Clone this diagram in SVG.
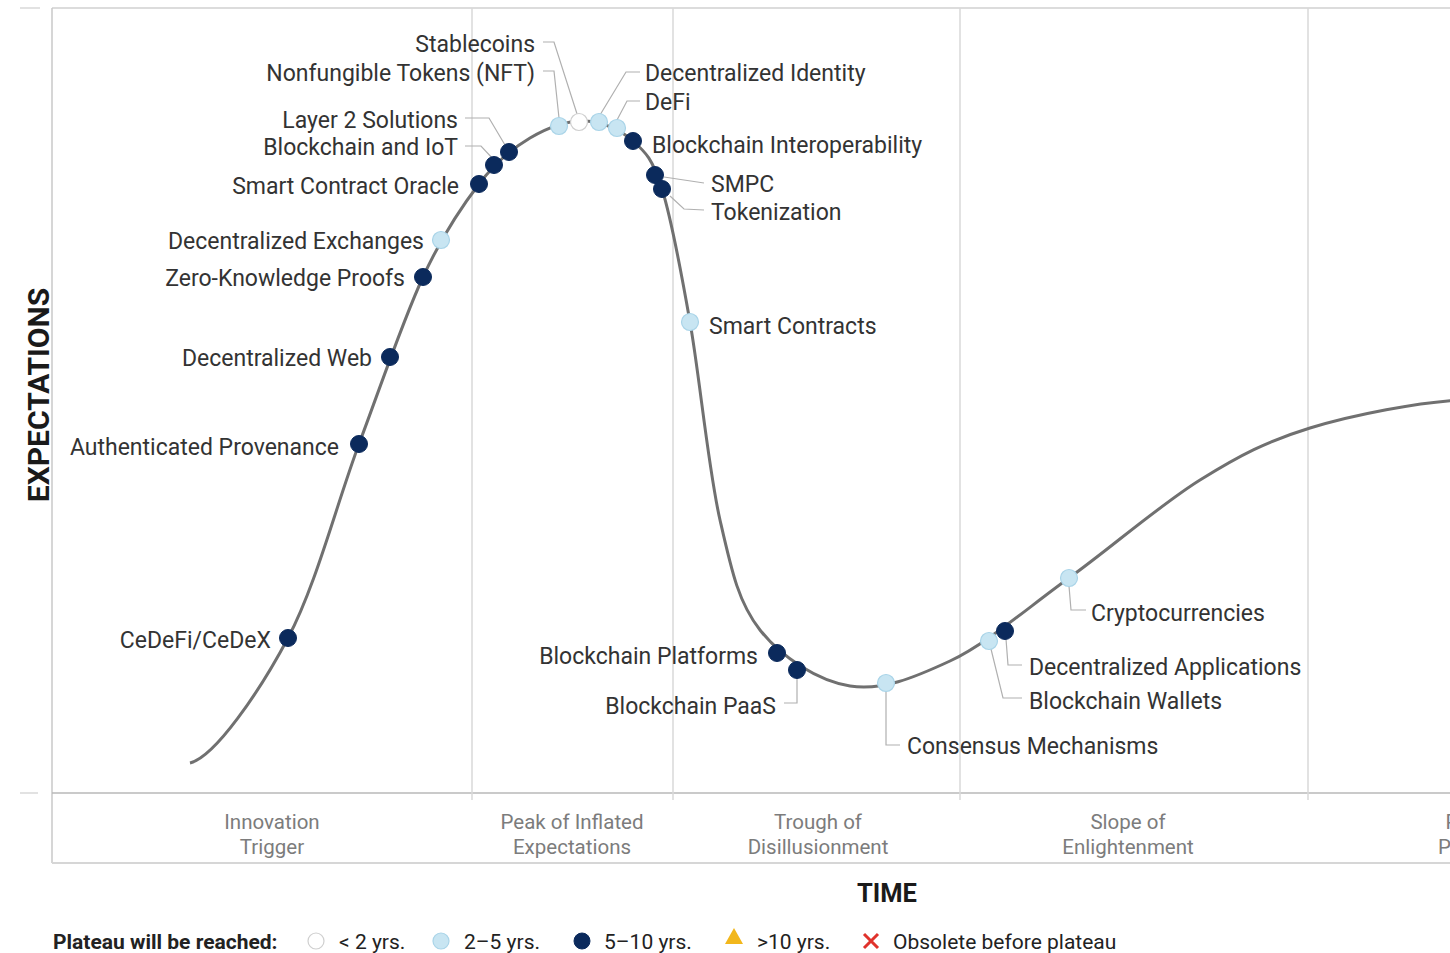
<svg xmlns="http://www.w3.org/2000/svg" width="1450" height="953" viewBox="0 0 1450 953">
<style>
  .lbl{font-family:Roboto,"Liberation Sans",sans-serif;font-size:23px;fill:#333}
  .end{text-anchor:end}
  .ph{font-family:Roboto,"Liberation Sans",sans-serif;font-size:20.5px;fill:#7c7c7c;text-anchor:middle}
  .lg{font-family:Roboto,"Liberation Sans",sans-serif;font-size:21px;fill:#222}
  .grid{stroke:#d9d9d9;stroke-width:1.5;fill:none}
  .lead{stroke:#b0b0b0;stroke-width:1.2;fill:none}
  .dk{fill:#0b2a5c;stroke:#0b2a5c;stroke-width:1}
  .lt{fill:#c8e5f2;stroke:#a9d4e8;stroke-width:1.2}
  .wh{fill:#fff;stroke:#cfcfcf;stroke-width:1.2}
</style>
<rect x="0" y="0" width="1450" height="953" fill="#fff"/>
<g id="frame">
  <line class="grid" x1="20" y1="8" x2="40" y2="8"/>
  <line class="grid" x1="20" y1="793" x2="38" y2="793"/>
  <line x1="52" y1="8" x2="1450" y2="8" stroke="#d0d0d0" stroke-width="1.5"/>
  <line x1="52" y1="8" x2="52" y2="863" stroke="#c8c8c8" stroke-width="1.5"/>
  <line x1="52" y1="793" x2="1450" y2="793" stroke="#b8b8b8" stroke-width="1.5"/>
  <line x1="52" y1="863" x2="1450" y2="863" stroke="#d6d6d6" stroke-width="2"/>
  <line class="grid" x1="472" y1="8" x2="472" y2="800"/>
  <line class="grid" x1="673" y1="8" x2="673" y2="800"/>
  <line class="grid" x1="960" y1="8" x2="960" y2="800"/>
  <line class="grid" x1="1308" y1="8" x2="1308" y2="800"/>
</g>
<g id="phases">
  <text class="ph" x="272" y="829">Innovation</text>
  <text class="ph" x="272" y="854">Trigger</text>
  <text class="ph" x="572" y="829">Peak of Inflated</text>
  <text class="ph" x="572" y="854">Expectations</text>
  <text class="ph" x="818" y="829">Trough of</text>
  <text class="ph" x="818" y="854">Disillusionment</text>
  <text class="ph" x="1128" y="829">Slope of</text>
  <text class="ph" x="1128" y="854">Enlightenment</text>
  <text class="ph" x="1492" y="829">Plateau of</text>
  <text class="ph" x="1492" y="854">Productivity</text>
</g>
<g id="axes">
  <text x="887" y="902" font-family="Roboto,'Liberation Sans',sans-serif" font-size="25.5" font-weight="bold" fill="#1a1a1a" text-anchor="middle">TIME</text>
  <text transform="translate(49,395) rotate(-90)" font-family="Roboto,'Liberation Sans',sans-serif" font-size="30" font-weight="bold" fill="#1a1a1a" text-anchor="middle">EXPECTATIONS</text>
</g>
<g id="connectors">
  <path id="curve" d="M190,763 C215,757 259.8,691.2 288,638 C316.2,584.8 336.5,504.2 359,444 C381.5,383.8 403,320.3 423,277 C443,233.7 461.2,207.2 479,184 C496.8,160.8 512.3,148.5 530,138 C547.7,127.5 567.8,120.5 585,121 C602.2,121.5 620.2,129.7 633,141 C645.8,152.3 652.5,158.8 662,189 C671.5,219.2 680.3,266.8 690,322 C699.7,377.2 708.3,468.7 720,520 C731.7,571.3 738.3,602.3 760,630 C781.7,657.7 818.3,681 850,686 C881.7,691 913.5,678 950,661 C986.5,644 1027.3,608 1069,578 C1110.7,548 1159.8,505 1200,480 C1240.2,455 1266.7,441.3 1310,428 C1353.3,414.7 1420,402 1460,400" fill="none" stroke="#707070" stroke-width="3"/>
  <polyline class="lead" points="543,42 554,42 578,117"/>
  <polyline class="lead" points="543,71 554,71 559,118"/>
  <polyline class="lead" points="640,72 626,72 600,115"/>
  <polyline class="lead" points="640,101 627,101 617,120"/>
  <polyline class="lead" points="465,118 489,118 505,145"/>
  <polyline class="lead" points="465,146 481,146 494,160"/>
  <polyline class="lead" points="664,177 704,183"/>
  <polyline class="lead" points="670,196 684,209 704,210"/>
  <polyline class="lead" points="797,678 797,703 784,703"/>
  <polyline class="lead" points="886,690 886,745 900,745"/>
  <polyline class="lead" points="1069,586 1071,610 1086,610"/>
  <polyline class="lead" points="1006,639 1008,665 1022,665"/>
  <polyline class="lead" points="991,649 1003,698 1022,698"/>
</g>
<g id="n-cedefi"><circle class="dk" cx="288" cy="638" r="8.5"/><text class="lbl end" x="271" y="648">CeDeFi/CeDeX</text></g>
<g id="n-authprov"><circle class="dk" cx="359" cy="444" r="8.5"/><text class="lbl end" x="339" y="455">Authenticated Provenance</text></g>
<g id="n-decweb"><circle class="dk" cx="390" cy="357" r="8.5"/><text class="lbl end" x="372" y="366">Decentralized Web</text></g>
<g id="n-zkp"><circle class="dk" cx="423" cy="277" r="8.5"/><text class="lbl end" x="405" y="286">Zero-Knowledge Proofs</text></g>
<g id="n-dex"><circle class="lt" cx="441" cy="240" r="8.5"/><text class="lbl end" x="424" y="249">Decentralized Exchanges</text></g>
<g id="n-oracle"><circle class="dk" cx="479" cy="184" r="8.5"/><text class="lbl end" x="459" y="194">Smart Contract Oracle</text></g>
<g id="n-iot"><circle class="dk" cx="494" cy="165" r="8.5"/><text class="lbl end" x="458" y="155">Blockchain and IoT</text></g>
<g id="n-layer2"><circle class="dk" cx="509" cy="152" r="8.5"/><text class="lbl end" x="458" y="128">Layer 2 Solutions</text></g>
<g id="n-nft"><circle class="lt" cx="559" cy="126" r="8.5"/><text class="lbl end" x="535" y="81">Nonfungible Tokens (NFT)</text></g>
<g id="n-stable"><circle class="wh" cx="579" cy="122" r="8.5"/><text class="lbl end" x="535" y="52">Stablecoins</text></g>
<g id="n-did"><circle class="lt" cx="599" cy="122" r="8.5"/><text class="lbl" x="645" y="81">Decentralized Identity</text></g>
<g id="n-defi"><circle class="lt" cx="617" cy="128" r="8.5"/><text class="lbl" x="645" y="110">DeFi</text></g>
<g id="n-interop"><circle class="dk" cx="633" cy="141" r="8.5"/><text class="lbl" x="652" y="153">Blockchain Interoperability</text></g>
<g id="n-smpc"><circle class="dk" cx="655" cy="175" r="8.5"/><text class="lbl" x="711" y="192">SMPC</text></g>
<g id="n-token"><circle class="dk" cx="662" cy="189" r="8.5"/><text class="lbl" x="711" y="220">Tokenization</text></g>
<g id="n-smartc"><circle class="lt" cx="690" cy="322" r="8.5"/><text class="lbl" x="709" y="334">Smart Contracts</text></g>
<g id="n-platforms"><circle class="dk" cx="777" cy="653" r="8.5"/><text class="lbl end" x="758" y="664">Blockchain Platforms</text></g>
<g id="n-paas"><circle class="dk" cx="797" cy="670" r="8.5"/><text class="lbl end" x="776" y="714">Blockchain PaaS</text></g>
<g id="n-consensus"><circle class="lt" cx="886" cy="683" r="8.5"/><text class="lbl" x="907" y="754">Consensus Mechanisms</text></g>
<g id="n-wallets"><circle class="lt" cx="989" cy="641" r="8.5"/><text class="lbl" x="1029" y="709">Blockchain Wallets</text></g>
<g id="n-dapps"><circle class="dk" cx="1005" cy="631" r="8.5"/><text class="lbl" x="1029" y="675">Decentralized Applications</text></g>
<g id="n-crypto"><circle class="lt" cx="1069" cy="578" r="8.5"/><text class="lbl" x="1091" y="621">Cryptocurrencies</text></g>
<g id="legend">
  <text class="lg" x="53" y="949" font-weight="bold">Plateau will be reached:</text>
  <circle class="wh" cx="316" cy="941" r="8"/>
  <text class="lg" x="339" y="949">&lt; 2 yrs.</text>
  <circle class="lt" cx="441" cy="941" r="8"/>
  <text class="lg" x="464" y="949">2–5 yrs.</text>
  <circle class="dk" cx="582" cy="941" r="8"/>
  <text class="lg" x="604" y="949">5–10 yrs.</text>
  <polygon points="734,928 743,944 725,944" fill="#f2b71c"/>
  <text class="lg" x="757" y="949">&gt;10 yrs.</text>
  <path d="M864,934 L878,948 M878,934 L864,948" stroke="#e0322c" stroke-width="3"/>
  <text class="lg" x="893" y="949">Obsolete before plateau</text>
</g>
</svg>
